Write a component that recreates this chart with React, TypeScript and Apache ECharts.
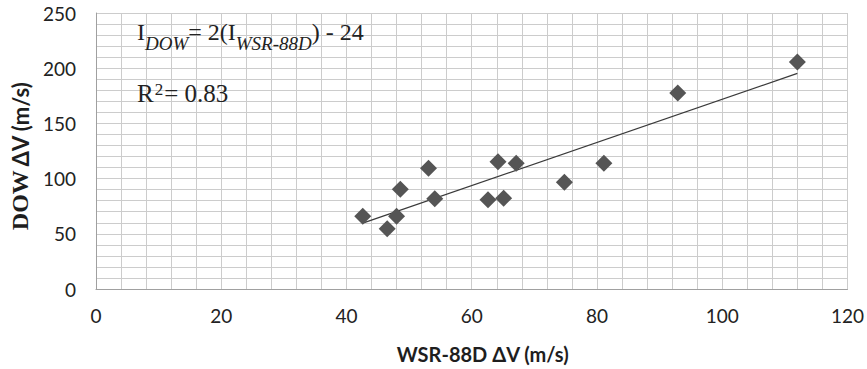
import React, { useEffect, useRef } from 'react';
import * as echarts from 'echarts';

// WSR-88D ΔV (m/s) vs DOW ΔV (m/s)
const wsrDeltaV = [42.6, 46.5, 48.0, 48.6, 53.1, 54.1, 62.6, 65.1, 64.2, 67.1, 74.8, 81.1, 92.9, 112.0];
const dowDeltaV = [65.9, 54.5, 65.9, 90.4, 109.3, 81.7, 80.8, 82.3, 115.3, 113.8, 96.7, 113.8, 177.5, 205.6];

const xAxisRange = [0, 120];
const yAxisRange = [0, 250];
const equationText = ['I', 'DOW', '= 2(I', 'WSR-88D', ') - 24'];
const rSquaredText = ['R', '2', '= 0.83'];

function linearFit(xs: number[], ys: number[]) {
  const n = xs.length;
  const mx = xs.reduce((a, b) => a + b, 0) / n;
  const my = ys.reduce((a, b) => a + b, 0) / n;
  let sxy = 0;
  let sxx = 0;
  for (let i = 0; i < n; i++) {
    sxy += (xs[i] - mx) * (ys[i] - my);
    sxx += (xs[i] - mx) * (xs[i] - mx);
  }
  const slope = sxy / sxx;
  return { slope, intercept: my - slope * mx };
}

export default function App() {
  const ref = useRef<HTMLDivElement>(null);

  useEffect(() => {
    document.body.style.margin = '0';
    if (!ref.current) return;
    const chart = echarts.init(ref.current, null, { renderer: 'svg' });

    const points = wsrDeltaV.map((x, i) => [x, dowDeltaV[i]]);
    const { slope, intercept } = linearFit(wsrDeltaV, dowDeltaV);
    const xMin = Math.min(...wsrDeltaV);
    const xMax = Math.max(...wsrDeltaV);
    const trend = [
      [xMin, slope * xMin + intercept],
      [xMax, slope * xMax + intercept],
    ];

    const gridColor = '#cccccc';
    const labelFont = 'Lato';
    const serif = 'Liberation Serif';
    const textColor = '#1e1e1e';

    chart.setOption({
      animation: false,
      backgroundColor: '#ffffff',
      grid: { left: 90, right: 18, top: 13, bottom: 77, containLabel: false },
      xAxis: {
        type: 'value',
        min: xAxisRange[0],
        max: xAxisRange[1],
        interval: 20,
        name: 'WSR-88D ΔV (m/s)',
        nameLocation: 'middle',
        nameGap: 55,
        nameTextStyle: {
          fontFamily: labelFont,
          fontWeight: 'bold',
          fontSize: 20,
          color: textColor,
          padding: [0, 0, 0, 22],
        },
        axisLine: { show: true, lineStyle: { color: '#a0a0a0', width: 1 } },
        axisTick: { show: false },
        axisLabel: { fontFamily: labelFont, fontSize: 19, color: '#222', margin: 17 },
        splitLine: { show: true, lineStyle: { color: gridColor, width: 1 } },
        minorTick: { show: false, splitNumber: 5 },
        minorSplitLine: { show: true, lineStyle: { color: gridColor, width: 1 } },
      },
      yAxis: {
        type: 'value',
        min: yAxisRange[0],
        max: yAxisRange[1],
        interval: 50,
        name: '{a|DOW} {b|ΔV (m/s)}',
        nameLocation: 'middle',
        nameGap: 63,
        nameRotate: 90,
        nameTextStyle: {
          padding: [0, 10, 0, 0],
          rich: {
            a: { fontFamily: serif, fontWeight: 'bold', fontSize: 24, color: textColor },
            b: { fontFamily: labelFont, fontWeight: 'bold', fontSize: 22, color: textColor },
          },
        },
        axisLine: { show: true, lineStyle: { color: '#a0a0a0', width: 1 } },
        axisTick: { show: false },
        axisLabel: { fontFamily: labelFont, fontSize: 19, color: '#222', margin: 20 },
        splitLine: { show: true, lineStyle: { color: gridColor, width: 1 } },
        minorTick: { show: false, splitNumber: 5 },
        minorSplitLine: { show: true, lineStyle: { color: gridColor, width: 1 } },
      },
      graphic: [
        {
          type: 'text',
          left: 137,
          top: 20,
          z: 10,
          style: {
            text: `{m|${equationText[0]}}{s|${equationText[1]}}{m|${equationText[2]}}{s|${equationText[3]}}{m|${equationText[4]}}`,
            fontFamily: serif,
            rich: {
              m: { fontFamily: serif, fontSize: 24, lineHeight: 26, verticalAlign: 'top', fill: '#222' },
              s: {
                fontFamily: serif,
                fontStyle: 'italic',
                fontSize: 19,
                lineHeight: 19,
                verticalAlign: 'top',
                padding: [14, 0, 0, 0],
                fill: '#222',
              },
            },
          },
        },
        {
          type: 'text',
          left: 137,
          top: 81,
          z: 10,
          style: {
            text: `{m|${rSquaredText[0]}}{p|${rSquaredText[1]}}{m|${rSquaredText[2]}}`,
            fontFamily: serif,
            rich: {
              m: { fontFamily: serif, fontSize: 25, lineHeight: 26, verticalAlign: 'top', fill: '#222' },
              p: { fontFamily: serif, fontSize: 17, lineHeight: 17, verticalAlign: 'top', padding: [0, 1, 0, 1], fill: '#222' },
            },
          },
        },
      ],
      series: [
        {
          type: 'line',
          data: trend,
          symbol: 'none',
          lineStyle: { color: '#3a3a3a', width: 1.3 },
          z: 3,
        },
        {
          type: 'scatter',
          data: points,
          symbol: 'diamond',
          symbolSize: 17,
          itemStyle: { color: '#555555', opacity: 1 },
          z: 4,
        },
      ],
    });

    return () => chart.dispose();
  }, []);

  return <div ref={ref} style={{ width: 867, height: 369 }} />;
}
